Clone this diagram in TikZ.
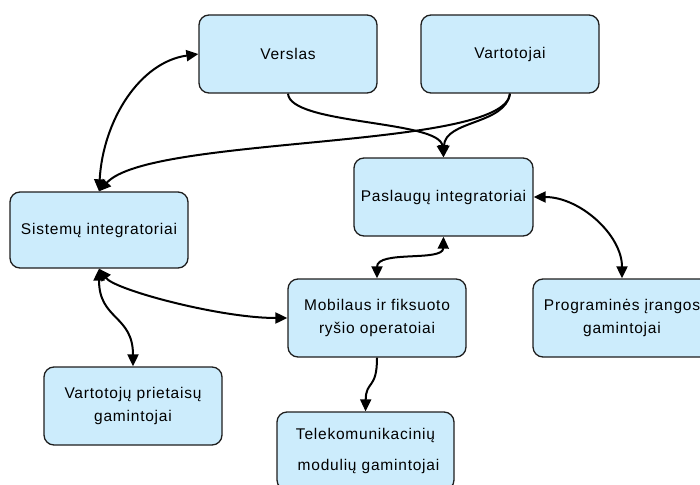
\documentclass[tikz,border=0pt]{standalone}
\usepackage{fontspec}
\setmainfont[LetterSpace=5]{Liberation Sans}
\usetikzlibrary{arrows.meta}
\definecolor{boxblue}{RGB}{204,236,252}
\definecolor{edgegray}{RGB}{30,30,30}
\tikzset{
  actor/.style={draw=edgegray, line width=1.3pt, rounded corners=10pt,
    fill=boxblue, minimum width=178pt, minimum height=78pt, inner sep=0pt,
    align=center, font=\fontsize{15.5}{18.6}\selectfont},
  tip/.tip={Triangle[length=12pt,width=11pt]},
  link/.style={line width=2pt, black, tip-tip},
  flow/.style={line width=2pt, black, -tip}
}
\begin{document}
\begin{tikzpicture}[x=1pt,y=-1pt]
\useasboundingbox (0,0) rectangle (700,484);

% actors
\node[actor] (vers) at (288,54) {Verslas};
\node[actor] (vart) at (510,54) {Vartotojai};
\node[actor, minimum width=179pt] (pasl) at (443.5,197) {Paslaugų integratoriai};
\node[actor, minimum height=76pt] (sys) at (99,230) {Sistemų integratoriai};
\node[actor] (mob) at (377,318) {Mobilaus ir fiksuoto\\[5pt]ryšio operatoiai};
\node[actor] (prog) at (622,318) {Programinės įrangos\\[5pt]gamintojai};
\node[actor] (vpg) at (133,406) {Vartotojų prietaisų\\[5pt]gamintojai};
\node[actor, minimum width=177pt] (tel) at (365.5,451) {Telekomunikacinių\\[12pt]\hspace*{6pt}modulių gamintojai};

% connectors
\draw[link] (sys.north) .. controls (103,120) and (140,62) .. (vers.west);
\draw[flow] (vart.south) .. controls (505,150) and (150,135) .. (sys.north);
\draw[flow] (vers.south) .. controls (290,125) and (440,120) .. (pasl.north);
\draw[flow] (vart.south) .. controls (505,125) and (445,120) .. (pasl.north);
\draw[link] (pasl.east) .. controls (580,197) and (622,235) .. (prog.north);
\draw[link] (pasl.south) .. controls (443,262) and (377,250) .. (mob.north);
\draw[link] (sys.south) .. controls (115,290) and (220,318) .. (mob.west);
\draw[link] (sys.south) .. controls (99,320) and (133,315) .. (vpg.north);
\draw[flow] (mob.south) .. controls (377,390) and (366,380) .. (tel.north);
\end{tikzpicture}
\end{document}
